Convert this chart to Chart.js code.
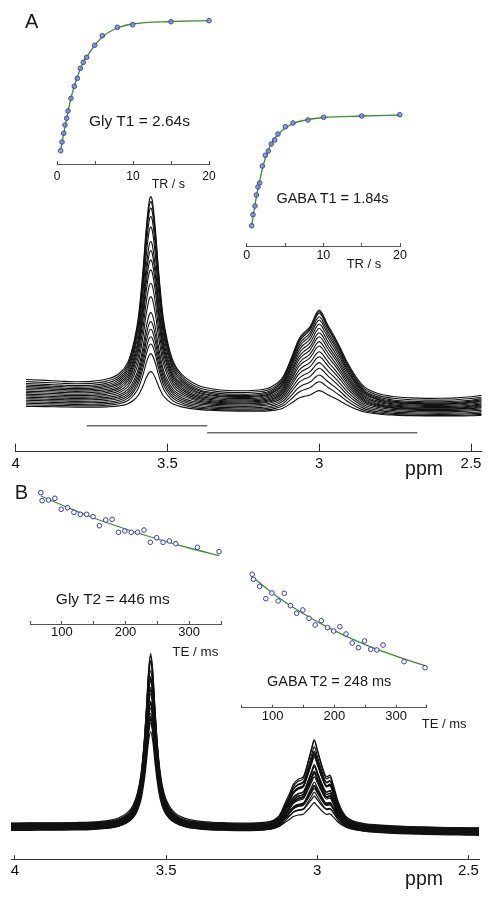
<!DOCTYPE html>
<html><head><meta charset="utf-8">
<script src="https://cdn.jsdelivr.net/npm/chart.js@4.4.1/dist/chart.umd.min.js"></script>
<style>
html,body{margin:0;padding:0;background:#fff;}
#fig{position:relative;width:493px;height:902px;overflow:hidden;background:#fff;font-family:"Liberation Sans",Arial,Helvetica,sans-serif;color:#1a1a1a;}
canvas{position:absolute;}
.t{position:absolute;white-space:nowrap;line-height:1;transform:translate(-50%,-50%);}
</style></head><body>
<div id="fig">
<canvas id="specA" width="493" height="300" style="left:0;top:180px"></canvas>
<canvas id="specB" width="493" height="272" style="left:0;top:630px"></canvas>
<canvas id="t1g" width="190" height="195" style="left:40px;top:5px"></canvas>
<canvas id="t1a" width="190" height="180" style="left:230px;top:95px"></canvas>
<canvas id="t2g" width="225" height="180" style="left:10px;top:475px"></canvas>
<canvas id="t2a" width="245" height="175" style="left:225px;top:560px"></canvas>

<span class="t" style="left:31.7px;top:21.2px;font-size:20px">A</span>
<span class="t" style="left:21.3px;top:492.2px;font-size:20px">B</span>
<span class="t" style="left:139.5px;top:121.2px;font-size:15.5px">Gly T1 = 2.64s</span>
<span class="t" style="left:168.3px;top:184px;font-size:12.5px">TR / s</span>
<span class="t" style="left:332.5px;top:198.3px;font-size:14.5px">GABA T1 = 1.84s</span>
<span class="t" style="left:364px;top:263.3px;font-size:13px">TR / s</span>
<span class="t" style="left:424px;top:469.3px;font-size:19.5px">ppm</span>
<span class="t" style="left:112.8px;top:599px;font-size:15.5px">Gly T2 = 446 ms</span>
<span class="t" style="left:195.3px;top:651.7px;font-size:13.4px">TE / ms</span>
<span class="t" style="left:329.2px;top:680.5px;font-size:14.5px">GABA T2 = 248 ms</span>
<span class="t" style="left:444.2px;top:723.3px;font-size:13px">TE / ms</span>
<span class="t" style="left:424px;top:879.3px;font-size:19.5px">ppm</span>
</div>
<script>
// ---------------- DATA ----------------
// Axis ticks
const TICKS_PPM = [4, 3.5, 3, 2.5];
const TICKS_TR = [0, 5, 10, 15, 20];
const LABELS_TR = [0, 10, 20];
const TICKS_TE = [50, 100, 150, 200, 250, 300, 350];
const LABELS_TE = [100, 200, 300];

// T1 recovery (panel A insets), signal in a.u.
const TR_GLY = [0.48,0.66,0.88,1.05,1.27,1.45,1.84,2.28,2.68,3.07,3.46,3.9,4.96,5.96,7.94,9.96,15,20];
const S_GLY_T1 = [0.133,0.22,0.307,0.39,0.457,0.53,0.657,0.777,0.857,0.957,1.017,1.067,1.187,1.283,1.367,1.393,1.423,1.433];
const FIT_GLY_T1 = [0.14,0.215,0.30,0.37,0.455,0.525,0.66,0.78,0.87,0.95,1.015,1.07,1.185,1.27,1.36,1.40,1.425,1.433];
const TR_GABA = [0.65,0.82,1.08,1.26,1.47,1.69,2.04,2.43,2.82,3.21,3.65,4.08,5.04,6.04,8.0,10.04,15,19.96];
const S_GABA_T1 = [0.203,0.313,0.40,0.51,0.59,0.63,0.80,0.907,0.95,1.02,1.06,1.12,1.193,1.23,1.26,1.287,1.30,1.313];
const FIT_GABA_T1 = [0.20,0.29,0.41,0.49,0.57,0.65,0.77,0.88,0.96,1.02,1.075,1.115,1.18,1.225,1.265,1.285,1.30,1.31];

// T2 decay (panel B insets)
const TE = [67,69,79,89,99,109,119,129,139,149,159,169,179,189,199,209,219,229,239,249,259,269,279,313,347];
const S_GLY_T2 = [1.313,1.233,1.24,1.257,1.147,1.163,1.117,1.097,1.097,1.073,0.983,1.04,1.047,0.917,0.93,0.917,0.917,0.94,0.817,0.863,0.817,0.83,0.803,0.767,0.723];
const S_GABA_T2 = [1.334,1.284,1.214,1.09,1.147,1.067,1.144,1.02,0.944,0.977,0.894,0.827,0.87,0.80,0.767,0.81,0.737,0.647,0.60,0.667,0.584,0.577,0.627,0.46,0.40];
const TE_FIT = [67,100,150,200,250,300,347];
const FIT_GLY_T2 = [1.28,1.19,1.06,0.95,0.85,0.76,0.683];
const FIT_GABA_T2 = [1.31,1.145,0.94,0.77,0.63,0.515,0.42];

// Panel A spectra: ppm grid, line-shape profiles
const PPM_A = [3.966,3.90,3.85,3.80,3.75,3.70,3.66,3.63,3.61,3.595,
  3.58,3.57,3.56,3.555,3.55,3.54,3.53,3.515,3.50,3.48,
  3.45,3.40,3.35,3.30,3.25,3.20,3.16,3.12,3.09,3.07,
  3.06,3.05,3.04,3.03,3.02,3.01,3.00,2.99,2.98,2.97,
  2.96,2.95,2.93,2.91,2.88,2.85,2.80,2.75,2.70,2.65,
  2.60,2.55,2.50,2.465];
const GLY_SHAPE_A = [0.074,0.070,0.066,0.064,0.066,0.078,0.105,0.165,0.27,0.40,
  0.64,0.84,0.98,1.0,0.98,0.84,0.64,0.40,0.27,0.165,
  0.10,0.05,0.032,0.024,0.020,0.017,0.015,0.014,0.013,0.013,
  0.013,0.012,0.012,0.012,0.012,0.012,0.012,0.012,0.012,0.012,
  0.012,0.012,0.011,0.010,0.009,0.008,0.006,0.005,0.004,0.003,
  0.003,0.002,0.002,0.002];
const GABA_SHAPE_A = [0.005,0.006,0.007,0.008,0.009,0.010,0.011,0.012,0.012,0.013,
  0.013,0.014,0.014,0.015,0.015,0.015,0.016,0.016,0.017,0.018,
  0.019,0.021,0.025,0.030,0.040,0.060,0.10,0.22,0.46,0.64,
  0.70,0.74,0.77,0.81,0.88,0.96,1.00,0.96,0.89,0.82,
  0.76,0.70,0.57,0.43,0.26,0.14,0.07,0.045,0.038,0.037,
  0.040,0.048,0.062,0.08];
const BASE_A = [0,-0.002,-0.003,-0.005,-0.006,-0.008,-0.009,-0.010,-0.011,-0.011,
  -0.012,-0.012,-0.012,-0.012,-0.013,-0.013,-0.014,-0.015,-0.016,-0.018,
  -0.021,-0.025,-0.029,-0.033,-0.036,-0.040,-0.043,-0.046,-0.048,-0.049,
  -0.050,-0.050,-0.051,-0.052,-0.052,-0.053,-0.054,-0.054,-0.055,-0.056,
  -0.056,-0.057,-0.058,-0.060,-0.062,-0.064,-0.068,-0.071,-0.074,-0.076,
  -0.078,-0.079,-0.080,-0.080];
// per-trace (one per TR) baseline level, Gly height, GABA height
const OFF_A = [0.424,0.426,0.434,0.444,0.455,0.465,0.474,0.477,0.483,0.489,0.497,0.506,0.515,0.519,0.527,0.537,0.553,0.571];
const GLY_A = [0.385,0.559,0.650,0.711,0.774,0.840,0.920,1.076,1.204,1.331,1.422,1.506,1.587,1.726,1.824,1.898,1.947,1.979];
const GABA_A = [0.236,0.321,0.379,0.436,0.480,0.529,0.569,0.621,0.657,0.699,0.730,0.764,0.797,0.831,0.855,0.878,0.878,0.876];
// integration ranges (ppm)
const INT_GLY = [3.766, 3.369];
const INT_GABA = [3.369, 2.677];

// Panel B spectra
const PPM_B = [4.013,3.95,3.90,3.85,3.80,3.75,3.70,3.66,3.63,3.61,
  3.595,3.583,3.573,3.565,3.558,3.551,3.544,3.537,3.529,3.519,
  3.507,3.49,3.47,3.44,3.40,3.35,3.30,3.25,3.20,3.16,
  3.145,3.125,3.107,3.09,3.079,3.063,3.046,3.029,3.018,3.010,
  3.000,2.985,2.969,2.958,2.947,2.930,2.908,2.89,2.869,2.84,
  2.80,2.75,2.70,2.65,2.60,2.55,2.50,2.465];
const GLY_SHAPE_B = [0.004,0.005,0.006,0.007,0.009,0.012,0.020,0.036,0.066,0.11,
  0.185,0.30,0.48,0.69,0.90,1.0,0.90,0.69,0.48,0.30,
  0.185,0.11,0.066,0.036,0.020,0.012,0.009,0.007,0.006,0.005,
  0.005,0.005,0.004,0.004,0.004,0.004,0.004,0.004,0.004,0.004,
  0.004,0.004,0.003,0.003,0.003,0.003,0.003,0.003,0.003,0.003,
  0.002,0.002,0.002,0.002,0.002,0.002,0.002,0.002];
const GABA_SHAPE_B = [0.003,0.003,0.004,0.004,0.005,0.005,0.006,0.006,0.007,0.007,
  0.007,0.008,0.008,0.008,0.008,0.008,0.008,0.009,0.009,0.009,
  0.010,0.010,0.011,0.012,0.013,0.015,0.018,0.022,0.030,0.05,
  0.07,0.13,0.27,0.40,0.49,0.55,0.58,0.77,0.91,1.0,
  0.89,0.71,0.58,0.60,0.49,0.29,0.14,0.09,0.06,0.04,
  0.03,0.02,0.015,0.012,0.010,0.009,0.008,0.008];
const BASE_B = [0.005,0.004,0.003,0.002,0.0,-0.001,-0.002,-0.003,-0.003,-0.003,
  -0.004,-0.004,-0.004,-0.004,-0.004,-0.004,-0.004,-0.004,-0.005,-0.005,
  -0.005,-0.006,-0.006,-0.007,-0.008,-0.010,-0.012,-0.014,-0.016,-0.017,
  -0.018,-0.018,-0.019,-0.019,-0.019,-0.020,-0.020,-0.020,-0.020,-0.020,
  -0.020,-0.021,-0.021,-0.022,-0.022,-0.023,-0.024,-0.025,-0.026,-0.028,
  -0.030,-0.033,-0.036,-0.038,-0.040,-0.042,-0.044,-0.045];
// per-trace (one per TE)
const OFF_B = [0.293,0.333,0.309,0.349,0.285,0.325,0.301,0.341,0.317,0.277,0.333,0.309,0.293,0.349,0.317,0.325,0.285,0.309,0.341,0.301,0.325,0.293,0.317,0.333,0.309];
const GLY_B = [1.76,1.65,1.66,1.68,1.54,1.56,1.50,1.47,1.47,1.44,1.32,1.39,1.40,1.23,1.25,1.23,1.23,1.26,1.09,1.16,1.09,1.11,1.08,1.03,0.97];
const GABA_B = [0.91,0.876,0.828,0.743,0.782,0.728,0.78,0.696,0.644,0.666,0.61,0.564,0.593,0.546,0.523,0.552,0.503,0.441,0.409,0.455,0.398,0.394,0.428,0.314,0.273];

// ---------------- CHARTS ----------------
const FONT = '"Liberation Sans", Arial, Helvetica, sans-serif';

function xAxis(o) {
  return {
    type: 'linear', min: o.min, max: o.max, reverse: !!o.reverse,
    afterBuildTicks: s => { s.ticks = o.ticks.map(v => ({value: v})); },
    afterFit: s => { s.height = o.height; },
    grid: {display: true, drawOnChartArea: false, drawTicks: true, tickLength: -o.tickLen, color: o.color, lineWidth: o.width},
    border: {display: true, color: o.color, width: o.width},
    ticks: {autoSkip: false, maxRotation: 0, minRotation: 0, padding: o.pad, color: '#111',
      font: {family: FONT, size: o.size},
      callback: v => (o.labels ? (o.labels.includes(v) ? String(v) : '') : String(v))}
  };
}
function baseOptions(pad, ymax, xcfg) {
  return {
    animation: false, responsive: false, devicePixelRatio: 1, events: [],
    layout: {padding: pad},
    plugins: {legend: {display: false}, tooltip: {enabled: false}},
    scales: {x: xAxis(xcfg), y: {display: false, min: 0, max: ymax}}
  };
}
function traces(ppm, base, gShape, aShape, off, gAmp, aAmp, lw) {
  return off.map((o, i) => ({
    data: ppm.map((p, k) => ({x: p, y: o + base[k] + gAmp[i] * gShape[k] + aAmp[i] * aShape[k]})),
    borderColor: '#111', borderWidth: lw, pointRadius: 0, fill: false,
    cubicInterpolationMode: 'monotone', order: 1
  }));
}

// Panel A spectrum
const dsA = traces(PPM_A, BASE_A, GLY_SHAPE_A, GABA_SHAPE_A, OFF_A, GLY_A, GABA_A, 1.1);
const INT_Y = [0.26, 0.19];
[INT_GLY, INT_GABA].forEach((r, j) => dsA.push({
  data: r.map(p => ({x: p, y: INT_Y[j]})), borderColor: '#6b6b6b', borderWidth: 1.6, pointRadius: 0, order: 0
}));
new Chart(document.getElementById('specA'), {
  type: 'line', data: {datasets: dsA},
  options: baseOptions({left: 15.7, right: 11.3, top: 5, bottom: 3.3}, 2.667,
    {min: 2.465, max: 4.0, reverse: true, ticks: TICKS_PPM, height: 25, tickLen: 8, pad: 11.3, size: 15, color: '#333', width: 1})
});

// Panel B spectrum
new Chart(document.getElementById('specB'), {
  type: 'line', data: {datasets: traces(PPM_B, BASE_B, GLY_SHAPE_B, GABA_SHAPE_B, OFF_B, GLY_B, GABA_B, 1.2)},
  options: baseOptions({left: 11, right: 14, top: 10, bottom: 17.7}, 2.193,
    {min: 2.465, max: 4.013, reverse: true, ticks: TICKS_PPM, height: 25, tickLen: 4, pad: 6.7, size: 15, color: '#333', width: 1})
});

// Inset helper
function inset(id, xs, ys, fitX, fitY, pad, ymax, xcfg, fillCol, borderCol) {
  new Chart(document.getElementById(id), {
    type: 'line',
    data: {datasets: [
      {data: xs.map((x, i) => ({x, y: ys[i]})), showLine: false, pointRadius: 2.3, pointBorderWidth: 1,
       pointBorderColor: borderCol, pointBackgroundColor: fillCol, clip: false, order: 0},
      {data: fitX.map((x, i) => ({x, y: fitY[i]})), borderColor: '#3f8f2f', borderWidth: 1.3, pointRadius: 0,
       cubicInterpolationMode: 'monotone', clip: false, order: 1}
    ]},
    options: baseOptions(pad, ymax, xcfg)
  });
}
const T1X = {min: 0, max: 20, ticks: TICKS_TR, labels: LABELS_TR, height: 20, tickLen: 3, color: '#555', width: 1};
inset('t1g', TR_GLY, S_GLY_T1, TR_GLY, FIT_GLY_T1, {left: 17, right: 21, top: 10, bottom: 16}, 1.49,
  Object.assign({}, T1X, {pad: 8.8, size: 12}), 'rgba(120,135,205,0.75)', '#3d4aa8');
inset('t1a', TR_GABA, S_GABA_T1, TR_GABA, FIT_GABA_T1, {left: 16.7, right: 20, top: 10, bottom: 9}, 1.41,
  Object.assign({}, T1X, {pad: 5.3, size: 12.5}), 'rgba(120,135,205,0.75)', '#3d4aa8');
const T2X = {min: 50, max: 350, ticks: TICKS_TE, labels: LABELS_TE, height: 20, tickLen: 3, color: '#555', width: 1, size: 13};
inset('t2g', TE, S_GLY_T2, TE_FIT, FIT_GLY_T2, {left: 20, right: 14, top: 5, bottom: 11}, 1.44,
  Object.assign({}, T2X, {pad: 3.7}), 'rgba(255,255,255,0.9)', '#3a3ac0');
inset('t2a', TE, S_GABA_T2, TE_FIT, FIT_GABA_T2, {left: 16.7, right: 43.1, top: 5, bottom: 7.3}, 1.427,
  Object.assign({}, T2X, {pad: 3.9}), 'rgba(255,255,255,0.9)', '#3a3ac0');
</script>
</body></html>
